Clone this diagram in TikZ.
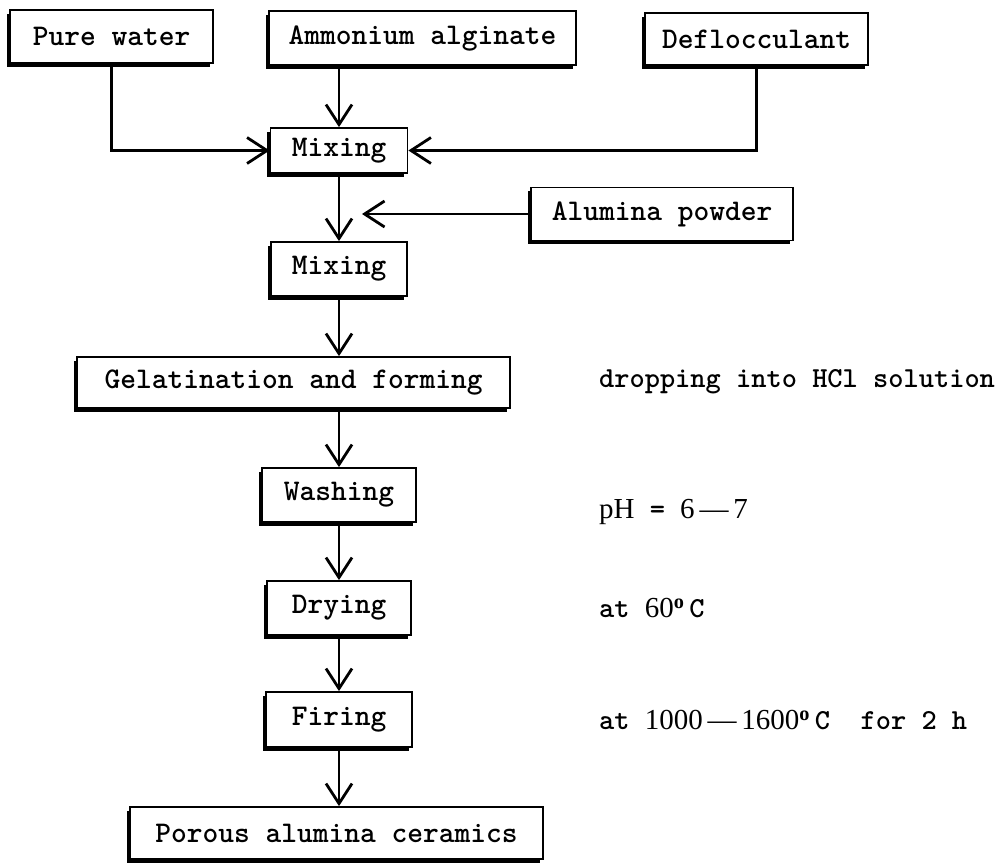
\documentclass[tikz,border=0pt]{standalone}
\usepackage{fontspec}
\newfontfamily\numfont[Ligatures=TeX]{Liberation Serif}
\usetikzlibrary{arrows.meta,shadows}
\begin{document}
\begin{tikzpicture}[x=1pt, y=-1pt, line width=2.2pt,
  box/.style={draw, fill=white, line width=1.8pt, inner sep=0pt,
    font=\fontsize{30}{36}\selectfont\ttfamily\bfseries,
    drop shadow={shadow xshift=-3.5pt, shadow yshift=-3.5pt, fill=black, opacity=1}},
  note/.style={anchor=west, inner sep=0pt, font=\fontsize{29}{34}\selectfont\ttfamily\bfseries},
  >={Straight Barb[length=20pt, width=26pt, line width=2.8pt]}]
\useasboundingbox (0,0) rectangle (1008,863);
\node[box, minimum width=203, minimum height=53] (water) at (111.5,36.5) {Pure water};
  \node[box, minimum width=307, minimum height=54] (alginate) at (422.5,38) {Ammonium alginate};
  \node[box, minimum width=223, minimum height=52] (defl) at (756.5,39) {Deflocculant};
\node[box, minimum width=137, minimum height=45] (mix1) at (339,150.5) {Mixing};
  \node[box, minimum width=262, minimum height=53] (alumina) at (662,214) {Alumina powder};
  \coordinate (feed) at (362,214);
\node[box, minimum width=136, minimum height=54] (mix2) at (339,269) {Mixing};
\node[box, minimum width=433, minimum height=51] (gel) at (293.5,382.5) {Gelatination and forming};
\node[box, minimum width=154, minimum height=54] (wash) at (339,495) {Washing};
\node[box, minimum width=144, minimum height=54] (dry) at (339,608) {Drying};
\node[box, minimum width=146, minimum height=55] (fire) at (339,719.5) {Firing};
\node[box, minimum width=413, minimum height=52] (porous) at (336.5,833) {Porous alumina ceramics};

  \node[note] (hcl) at (598,382) {dropping into HCl solution};
  \node[note] (ph) at (598,512) {{\numfont\mdseries pH} = {\numfont\mdseries 6\,\textemdash\,7}};
  \node[note] (dry60) at (598,608) {at {\numfont\mdseries 60\textsuperscript{\bfseries o}}\,C};
  \node[note] (fire1600) at (598,720) {at {\numfont\mdseries 1000\,\textemdash\,1600\textsuperscript{\bfseries o}}\,C\ \ for 2 h};

\draw[->] (water) |- (mix1);
  \draw[->] (defl) |- (mix1);
  \draw[->] (mix1 |- alginate.south) -- (mix1);
\draw[->] (mix1) -- (mix2);
  \draw[->] (alumina) -- (feed);
\draw[->] (mix2) -- (mix2 |- gel.north);
\draw[->] (mix2 |- gel.south) -- (wash);
\draw[->] (wash) -- (dry);
\draw[->] (dry) -- (fire);
\draw[->] (fire) -- (fire |- porous.north);
\end{tikzpicture}
\end{document}
